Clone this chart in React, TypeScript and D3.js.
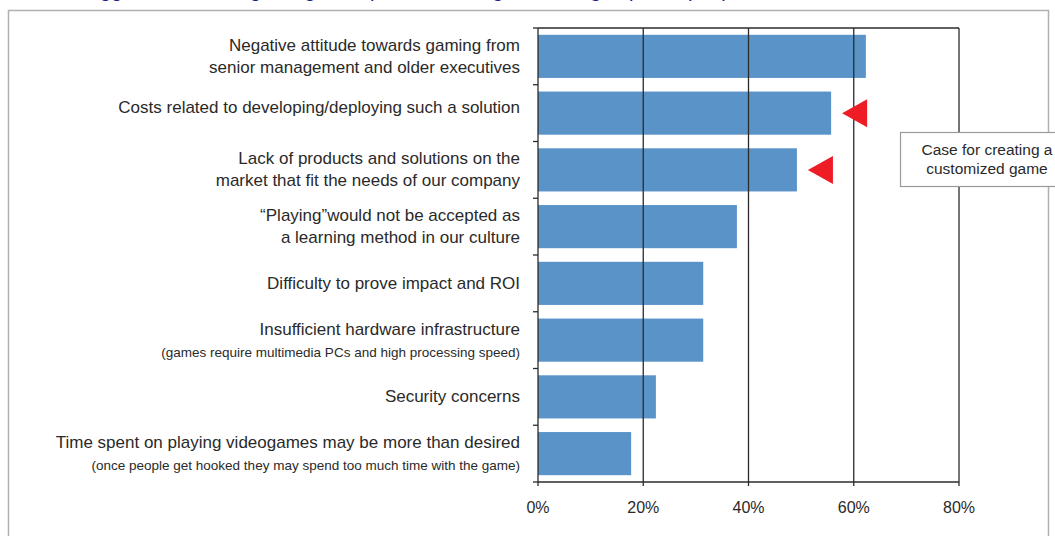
import React from 'react';
import * as d3 from 'd3';

const mainLines: string[][] = [
  ['Negative attitude towards gaming from', 'senior management and older executives'],
  ['Costs related to developing/deploying such a solution'],
  ['Lack of products and solutions on the', 'market that fit the needs of our company'],
  ['\u201CPlaying\u201Dwould not be accepted as', 'a learning method in our culture'],
  ['Difficulty to prove impact and ROI'],
  ['Insufficient hardware infrastructure'],
  ['Security concerns'],
  ['Time spent on playing videogames may be more than desired'],
];
const subLines: (string | null)[] = [
  null,
  null,
  null,
  null,
  null,
  '(games require multimedia PCs and high processing speed)',
  null,
  '(once people get hooked they may spend too much time with the game)',
];
const values: number[] = [62.3, 55.7, 49.2, 37.8, 31.4, 31.4, 22.4, 17.7];
const tickValues: number[] = [0, 20, 40, 60, 80];
const highlighted: number[] = [1, 2];
const calloutLines: string[] = ['Case for creating a', 'customized game'];
const titleText = 'Biggest barriers to gaming in corporate learning, according to polled people';

const W = 1055;
const H = 536;
const FONT = 'Liberation Sans, Arial, Helvetica, sans-serif';

export default function App() {
  const x = d3.scaleLinear().domain([0, 80]).range([538, 959]);
  const idx = values.map((_, i) => String(i));
  const y = d3.scaleBand().domain(idx).range([28, 482]).paddingInner(0.24).paddingOuter(0.12);
  const step = y.step();
  const top = 28;
  const bottom = 482;
  const barColor = '#5a93c8';
  const gridColor = '#2b2b2b';
  const textColor = '#2a2a2a';
  const mainSize = 17;
  const subSize = 13.5;

  return (
    <svg width={W} height={H} style={{ position: 'absolute', left: 0, top: 0, background: '#fff' }} fontFamily={FONT}>
      <rect x={0} y={0} width={W} height={H} fill="#fff" />
      {/* title, clipped at the top edge as in the reference */}
      <text x={82} y={-3.5} fontSize={20} fill="#1b1b8c">{titleText}</text>
      {/* outer frame */}
      <path d={`M8.5,${H + 5} L8.5,10.5 L1048.5,10.5 L1048.5,${H + 5}`} fill="none" stroke="#b0b0b0" strokeWidth={1.5} />

      {/* bars */}
      {values.map((v, i) => (
        <rect key={'b' + i} x={x(0)} y={y(String(i))} width={x(v) - x(0)} height={y.bandwidth()} fill={barColor} />
      ))}

      {/* grid lines */}
      {tickValues.map((t) => (
        <line key={'g' + t} x1={x(t)} x2={x(t)} y1={top} y2={bottom + 4} stroke={gridColor} strokeWidth={1.3} />
      ))}
      {/* top border & bottom axis */}
      <line x1={x(0)} x2={x(80)} y1={top} y2={top} stroke={gridColor} strokeWidth={1.3} />
      <line x1={x(0)} x2={x(80)} y1={bottom} y2={bottom} stroke={gridColor} strokeWidth={1.3} />
      {/* left ticks */}
      {d3.range(values.length + 1).map((k) => (
        <line key={'lt' + k} x1={x(0) - 5} x2={x(0)} y1={top + k * step} y2={top + k * step} stroke={gridColor} strokeWidth={1.3} />
      ))}

      {/* tick labels */}
      {tickValues.map((t) => (
        <text key={'tl' + t} x={x(t)} y={507} fontSize={16} fill={textColor} textAnchor="middle" dominantBaseline="central">
          {t + '%'}
        </text>
      ))}

      {/* category labels */}
      {values.map((_, i) => {
        const cy = (y(String(i)) as number) + y.bandwidth() / 2;
        const lines = mainLines[i];
        const sub = subLines[i];
        const out: React.ReactNode[] = [];
        if (sub) {
          out.push(
            <text key={'m' + i} x={520} y={cy - 11} fontSize={mainSize} fill={textColor} textAnchor="end" dominantBaseline="central">{lines[0]}</text>
          );
          out.push(
            <text key={'s' + i} x={520} y={cy + 12} fontSize={subSize} fill={textColor} textAnchor="end" dominantBaseline="central">{sub}</text>
          );
        } else if (lines.length === 2) {
          out.push(
            <text key={'m0' + i} x={520} y={cy - 11} fontSize={mainSize} fill={textColor} textAnchor="end" dominantBaseline="central">{lines[0]}</text>
          );
          out.push(
            <text key={'m1' + i} x={520} y={cy + 11} fontSize={mainSize} fill={textColor} textAnchor="end" dominantBaseline="central">{lines[1]}</text>
          );
        } else {
          out.push(
            <text key={'m' + i} x={520} y={cy - (i === 1 ? 6 : 0)} fontSize={mainSize} fill={textColor} textAnchor="end" dominantBaseline="central">{lines[0]}</text>
          );
        }
        return <g key={'l' + i}>{out}</g>;
      })}

      {/* red arrows */}
      {highlighted.map((i) => {
        const cy = (y(String(i)) as number) + y.bandwidth() / 2;
        const tip = x(values[i]) + 11;
        return <path key={'a' + i} d={`M${tip},${cy} L${tip + 25},${cy - 14} L${tip + 25},${cy + 14} Z`} fill="#ee1c25" />;
      })}

      {/* callout */}
      <rect x={900.5} y={132.5} width={175} height={54} fill="#fff" stroke="#9a9a9a" strokeWidth={1.2} />
      {calloutLines.map((s, k) => (
        <text key={'c' + k} x={987} y={149 + k * 19} fontSize={15.5} fill={textColor} textAnchor="middle" dominantBaseline="central">{s}</text>
      ))}
    </svg>
  );
}
